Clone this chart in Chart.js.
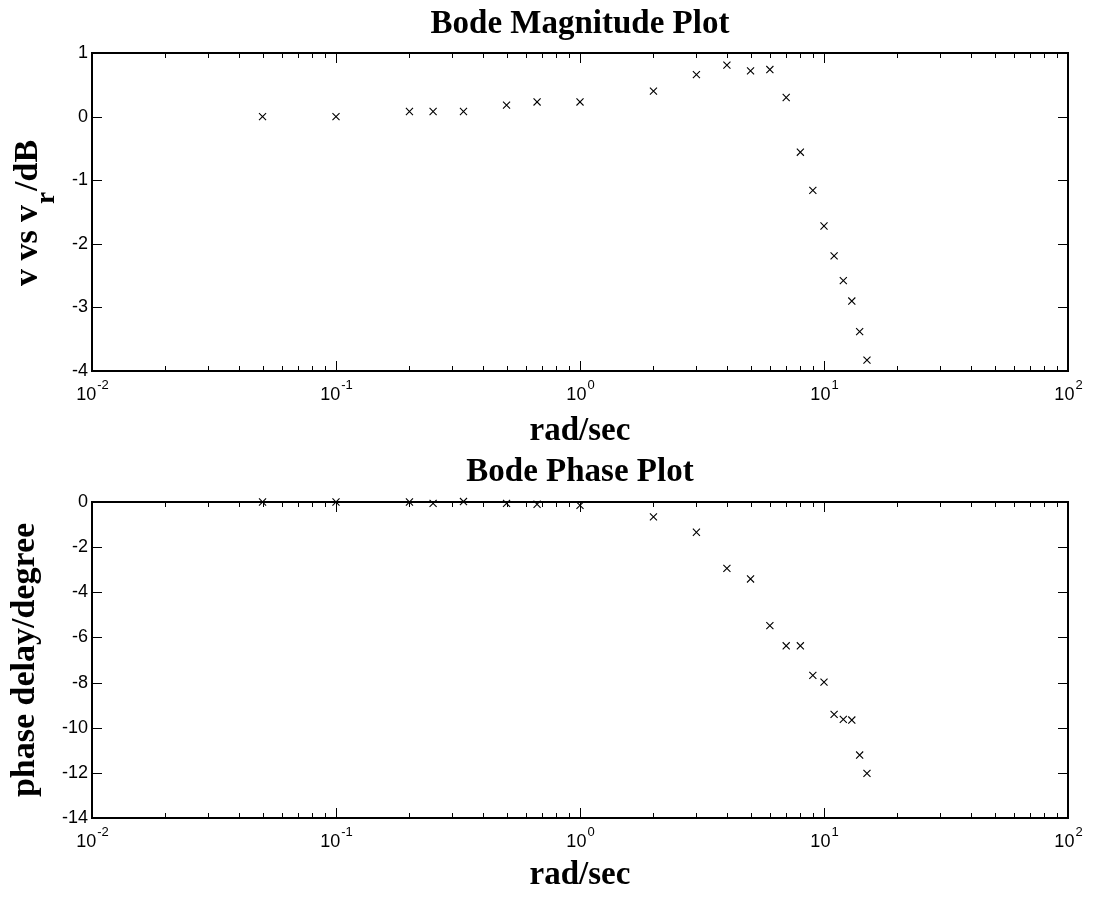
<!DOCTYPE html>
<html>
<head>
<meta charset="utf-8">
<title>Bode Plot</title>
<script src="https://cdn.jsdelivr.net/npm/chart.js@4.4.1/dist/chart.umd.min.js"></script>
<style>
  body { margin: 0; background: #fff; }
  canvas { display: block; }
</style>
</head>
<body>
<canvas id="magChart" width="1093" height="450"></canvas>
<canvas id="phaseChart" width="1093" height="450"></canvas>
<script>
// measured frequencies (rad/sec)
const freq = [0.05, 0.1, 0.2, 0.25, 0.333, 0.5, 0.667, 1, 2, 3, 4, 5, 6, 7, 8, 9, 10, 11, 12, 13, 14, 15];
// v vs v_r in dB
const magDb = [0, 0, 0.08, 0.08, 0.08, 0.18, 0.23, 0.23, 0.40, 0.66, 0.81, 0.72, 0.74, 0.30,
  -0.56, -1.16, -1.72, -2.19, -2.58, -2.90, -3.38, -3.83];
// phase delay in degrees
const phaseDeg = [0, 0, 0, -0.06, 0.02, -0.06, -0.10, -0.15, -0.66, -1.34, -2.94, -3.41, -5.48, -6.37,
  -6.37, -7.68, -7.98, -9.41, -9.63, -9.66, -11.21, -12.02];

const xTickExps = [-2, -1, 0, 1, 2];
const magRange = [-4, 1];
const phaseRange = [-14, 0];
const magStep = 1;
const phaseStep = 2;

const serif = '"Liberation Serif", "Times New Roman", serif';
const sans = '"Liberation Sans", Arial, sans-serif';

// matlab-ish axes: box, inside ticks, 10^n labels, optional y label with subscript
const matlabAxes = {
  id: 'matlabAxes',
  afterDraw(chart, args, opts) {
    const ctx = chart.ctx;
    const { left, right, top, bottom } = chart.chartArea;
    const xs = chart.scales.x;
    const ys = chart.scales.y;
    ctx.save();
    ctx.strokeStyle = '#000';
    ctx.lineWidth = 1;
    ctx.beginPath();
    for (let e = xTickExps[0]; e < xTickExps[xTickExps.length - 1]; e++) {
      for (let d = 1; d < 10; d++) {
        const px = Math.round(xs.getPixelForValue(d * Math.pow(10, e))) + 0.5;
        const len = d === 1 ? 10 : 5;
        ctx.moveTo(px, bottom); ctx.lineTo(px, bottom - len);
        ctx.moveTo(px, top); ctx.lineTo(px, top + len);
      }
    }
    ys.ticks.forEach((t) => {
      const py = Math.round(ys.getPixelForValue(t.value)) + 0.5;
      ctx.moveTo(left, py); ctx.lineTo(left + 10, py);
      ctx.moveTo(right, py); ctx.lineTo(right - 10, py);
    });
    ctx.stroke();

    ctx.lineWidth = 2;
    ctx.strokeRect(left, top, right - left, bottom - top);

    // x tick labels 10^n
    ctx.fillStyle = '#000';
    ctx.textAlign = 'left';
    ctx.textBaseline = 'alphabetic';
    xTickExps.forEach((e) => {
      const px = xs.getPixelForValue(Math.pow(10, e));
      const expStr = String(e);
      ctx.font = '18px ' + sans;
      const wBase = ctx.measureText('10').width;
      ctx.font = '13px ' + sans;
      const wExp = ctx.measureText(expStr).width;
      const x0 = px - (wBase + wExp) / 2;
      ctx.font = '18px ' + sans;
      ctx.fillText('10', x0, bottom + 29);
      ctx.font = '13px ' + sans;
      ctx.fillText(expStr, x0 + wBase + 1, bottom + 18);
    });

    if (opts.ylabelParts) {
      const [a, sub, b] = opts.ylabelParts;
      ctx.translate(37, (top + bottom) / 2 + 2);
      ctx.rotate(-Math.PI / 2);
      ctx.font = 'bold 34px ' + serif;
      const wa = ctx.measureText(a).width;
      const wb = ctx.measureText(b).width;
      ctx.font = 'bold 27px ' + serif;
      const ws = ctx.measureText(sub).width;
      let x = -(wa + ws + wb) / 2;
      ctx.font = 'bold 34px ' + serif;
      ctx.fillText(a, x, 0);
      x += wa + 1;
      ctx.font = 'bold 27px ' + serif;
      ctx.fillText(sub, x, 17);
      x += ws + 1;
      ctx.font = 'bold 34px ' + serif;
      ctx.fillText(b, x, 0);
    }
    ctx.restore();
  }
};

function makeBode(canvasId, values, range, step, cfg) {
  return new Chart(document.getElementById(canvasId), {
    type: 'scatter',
    data: {
      datasets: [{
        data: freq.map((f, i) => ({ x: f, y: values[i] })),
        pointStyle: 'crossRot',
        pointRadius: 5,
        pointBorderWidth: 1.1,
        borderColor: '#000',
        backgroundColor: '#000',
        showLine: false,
        clip: false,
      }],
    },
    options: {
      responsive: false,
      animation: false,
      devicePixelRatio: 1,
      layout: { padding: { left: 0, right: 25, top: 0, bottom: 0 } },
      plugins: {
        legend: { display: false },
        tooltip: { enabled: false },
        title: {
          display: true,
          text: cfg.title,
          fullSize: false,
          color: '#000',
          font: { family: serif, size: 33, weight: 'bold', lineHeight: 1 },
          padding: cfg.titlePad,
        },
        matlabAxes: { ylabelParts: cfg.ylabelParts || null },
      },
      scales: {
        x: {
          type: 'logarithmic',
          min: 0.01,
          max: 100,
          grid: { display: false, drawTicks: false },
          border: { display: false },
          ticks: { display: false },
          title: {
            display: true,
            text: 'rad/sec',
            color: '#000',
            font: { family: serif, size: 33, weight: 'bold', lineHeight: 1 },
            padding: { top: 0, bottom: cfg.xTitleBottom },
          },
          afterFit: (scale) => { scale.height = cfg.xAxisHeight; },
        },
        y: {
          min: range[0],
          max: range[1],
          grid: { display: false, drawTicks: false },
          border: { display: false },
          ticks: {
            stepSize: step,
            color: '#000',
            padding: 4,
            font: { family: sans, size: 18 },
          },
          title: {
            display: !!cfg.ytitle,
            text: cfg.ytitle || '',
            color: '#000',
            font: { family: serif, size: 34, weight: 'bold', lineHeight: 1 },
            padding: { top: 8.2, bottom: 0 },
          },
          afterFit: (scale) => { scale.width = 92; },
        },
      },
    },
    plugins: [matlabAxes],
  });
}

makeBode('magChart', magDb, magRange, magStep, {
  title: 'Bode Magnitude Plot',
  titlePad: { top: 8.4, bottom: 11.6 },
  xTitleBottom: 1.6,
  xAxisHeight: 79,
  ylabelParts: ['v vs v', 'r', '/dB'],
});

makeBode('phaseChart', phaseDeg, phaseRange, phaseStep, {
  title: 'Bode Phase Plot',
  titlePad: { top: 6.4, bottom: 12.6 },
  xTitleBottom: 7.6,
  xAxisHeight: 82,
  ytitle: 'phase delay/degree',
});
</script>
</body>
</html>
